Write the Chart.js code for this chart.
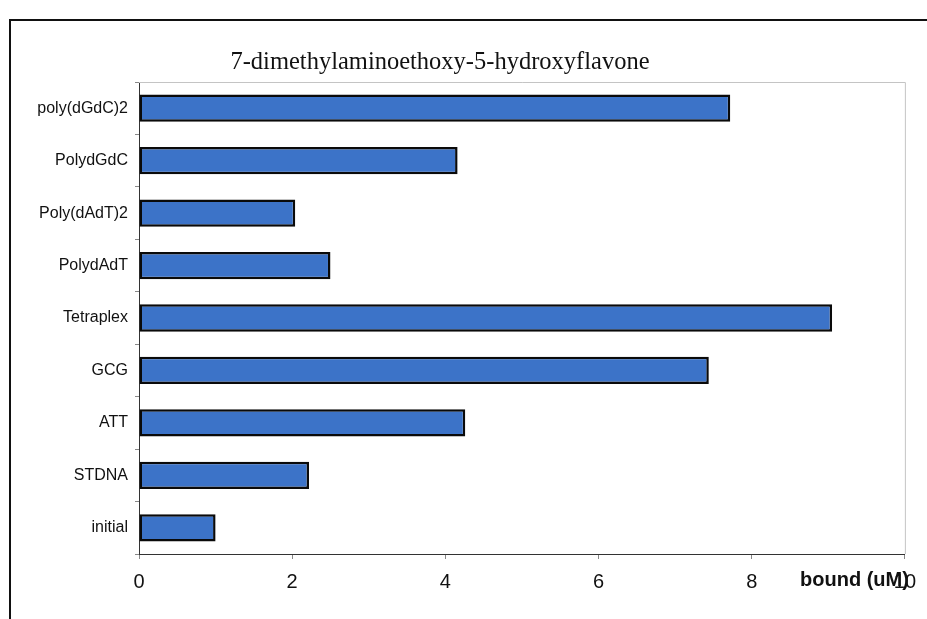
<!DOCTYPE html>
<html>
<head>
<meta charset="utf-8">
<script src="https://cdn.jsdelivr.net/npm/chart.js@4"></script>
<style>
  html, body { margin: 0; padding: 0; background: #fff; overflow: hidden; }
  #frame {
    position: absolute; left: 9px; top: 19px;
    width: 916px; height: 598px;
    border-left: 2px solid #111; border-top: 2px solid #111;
  }
  canvas { display: block; }
</style>
</head>
<body>
<div id="frame"><canvas id="bar-chart-canvas" width="916" height="598"></canvas></div>
<script>
const categories = ['poly(dGdC)2', 'PolydGdC', 'Poly(dAdT)2', 'PolydAdT', 'Tetraplex', 'GCG', 'ATT', 'STDNA', 'initial'];
const boundValues = [7.72, 4.16, 2.04, 2.5, 9.05, 7.44, 4.26, 2.22, 1.0];
const xTicks = [0, 2, 4, 6, 8, 10];
const chartTitle = '7-dimethylaminoethoxy-5-hydroxyflavone';
const axisTitle = 'bound (uM)';

// plot box, title and the axis label sitting on the tick row
const extras = {
    id: 'extras',
    afterDraw(chart) {
        const ctx = chart.ctx;
        const area = chart.chartArea;
        ctx.save();
        ctx.strokeStyle = '#c4c4c4';
        ctx.lineWidth = 1;
        ctx.beginPath();
        ctx.moveTo(area.left, area.top + 0.5);
        ctx.lineTo(area.right + 0.5, area.top + 0.5);
        ctx.lineTo(area.right + 0.5, area.bottom);
        ctx.stroke();

        ctx.fillStyle = '#111';
        ctx.font = '24.5px "Liberation Serif", "Times New Roman", serif';
        ctx.textAlign = 'center';
        ctx.textBaseline = 'middle';
        ctx.fillText(chartTitle, 429, 42);

        ctx.font = 'bold 20px "Liberation Sans", Arial, sans-serif';
        ctx.textAlign = 'right';
        ctx.fillText(axisTitle, area.right + 4, area.bottom + 26);
        ctx.restore();
    }
};

const barChartContext = document.getElementById('bar-chart-canvas').getContext('2d');

const barChart = new Chart(barChartContext, {
    type: 'bar',
    data: {
        labels: categories,
        datasets: [{
            data: boundValues,
            backgroundColor: '#3c73c8',
            borderColor: '#0a0a0a',
            borderWidth: 2.5,
            borderSkipped: false,
            barPercentage: 0.52,
            categoryPercentage: 1
        }]
    },
    options: {
        indexAxis: 'y',
        responsive: false,
        animation: false,
        layout: { padding: { top: 61, right: 22, left: 0, bottom: 0 } },
        plugins: {
            legend: { display: false },
            title: { display: false },
            tooltip: { enabled: false }
        },
        scales: {
            x: {
                min: 0,
                max: 10,
                afterBuildTicks(scale) {
                    scale.ticks = xTicks.map(v => ({ value: v }));
                },
                afterFit(scale) { scale.height = 65; },
                grid: {
                    drawOnChartArea: false,
                    drawTicks: true,
                    tickLength: 5,
                    color: '#888'
                },
                border: { display: true, color: '#333', width: 1 },
                ticks: {
                    color: '#111',
                    padding: 11,
                    font: { family: '"Liberation Sans", Arial, sans-serif', size: 20 }
                }
            },
            y: {
                afterFit(scale) { scale.width = 128; },
                grid: {
                    drawOnChartArea: false,
                    drawTicks: true,
                    tickLength: 4,
                    color: '#888'
                },
                border: { display: true, color: '#333', width: 1 },
                ticks: {
                    color: '#111',
                    padding: 7,
                    font: { family: '"Liberation Sans", Arial, sans-serif', size: 16 }
                }
            }
        }
    },
    plugins: [extras]
});
</script>
</body>
</html>
